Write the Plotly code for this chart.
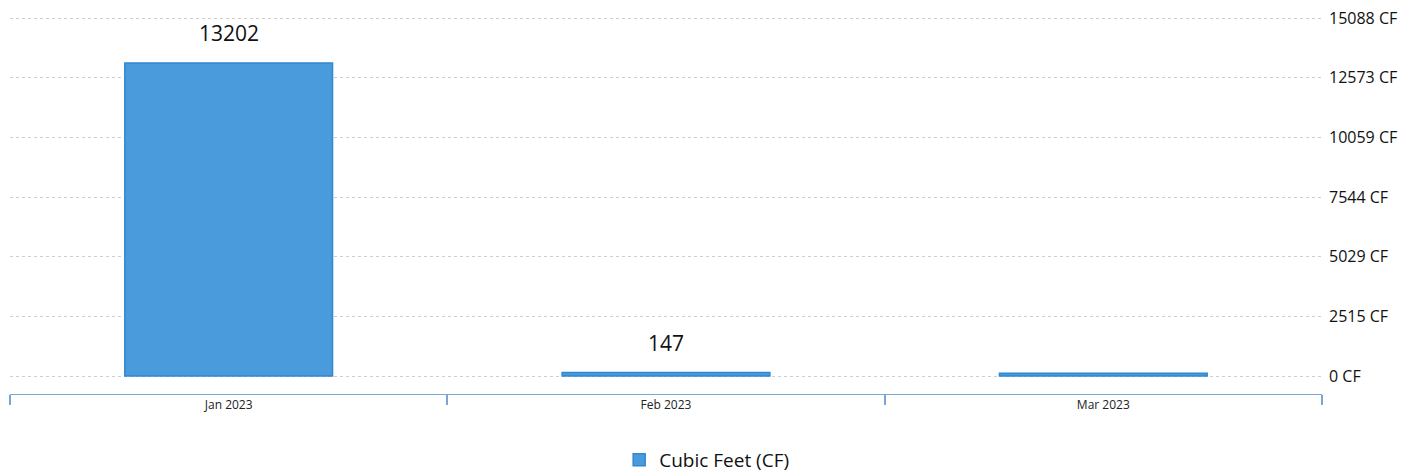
import plotly.graph_objects as go

categories = ["Jan 2023", "Feb 2023", "Mar 2023"]
values = [13202, 147, 120]
value_labels = ["13202", "147", ""]
y_ticks = [0, 2515, 5029, 7544, 10059, 12573, 15088]
y_tick_labels = [f"{v} CF" for v in y_ticks]
series_name = "Cubic Feet (CF)"

FONT = "Open Sans"

fig = go.Figure()
fig.add_trace(go.Bar(
    x=categories, y=values, name=series_name,
    marker=dict(color="#4a9bdb", line=dict(color="#2f88d2", width=1.5)),
    width=0.475,
    hoverinfo="x+y",
))

for c, v, t in zip(categories, values, value_labels):
    if t:
        fig.add_annotation(x=c, y=v, text=t, showarrow=False, yanchor="bottom",
                           yshift=14, font=dict(family=FONT, size=21, color="#111"))

fig.update_layout(
    width=1421, height=476,
    margin=dict(l=2, r=107, t=9, b=90),
    paper_bgcolor="white", plot_bgcolor="white",
    font=dict(family=FONT, color="#111"),
    showlegend=True,
    legend=dict(orientation="h", x=0.531, xanchor="center", y=-0.175, yanchor="middle",
                font=dict(family=FONT, size=19, color="#111"), itemwidth=30),
    xaxis=dict(
        automargin=False,
        showline=True, linecolor="#7aa6d4", linewidth=1,
        ticks="outside", tickson="boundaries", ticklen=10, tickcolor="#7aa6d4", tickwidth=1.5,
        tickfont=dict(family=FONT, size=12, color="#222"),
        showgrid=False,
    ),
    yaxis=dict(
        automargin=False,
        side="right", range=[-756, 15140],
        tickvals=y_ticks, ticktext=y_tick_labels,
        tickfont=dict(family=FONT, size=16, color="#111"),
        ticklabelstandoff=6, ticklabeloverflow="allow",
        showgrid=True, gridcolor="#cfcfcf", gridwidth=1, griddash="dot",
        zeroline=False, showline=False, ticks="",
    ),
)

fig.write_html("out.html")
